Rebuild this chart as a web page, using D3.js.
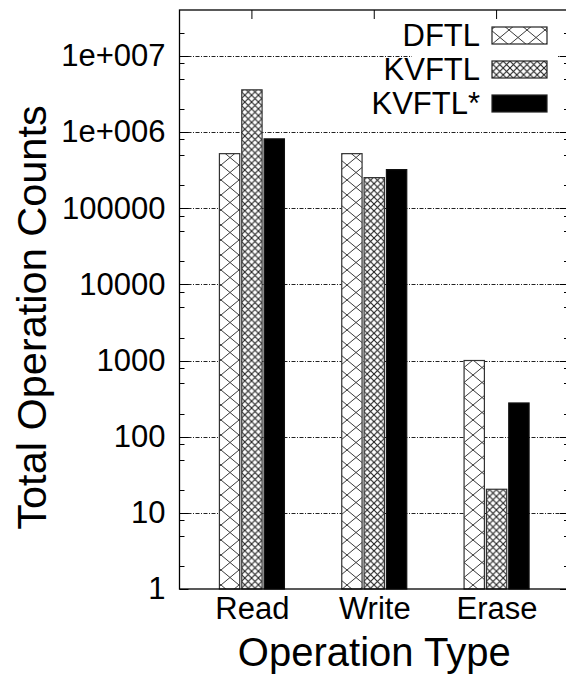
<!DOCTYPE html>
<html>
<head>
<meta charset="utf-8">
<script src="https://cdn.jsdelivr.net/npm/d3@7"></script>
<style>
  html, body { margin: 0; padding: 0; background: #fff; }
  svg { display: block; }
  text { font-family: "Liberation Sans", Arial, Helvetica, sans-serif; fill: #000; }
</style>
</head>
<body>
<svg id="chart" width="566" height="677"></svg>
<script>
const categories = ["Read", "Write", "Erase"];
const series = ["DFTL", "KVFTL", "KVFTL*"];
const dftlValues = [520000, 520000, 1000];
const kvftlValues = [3580000, 252000, 20.4];
const kvftlStarValues = [813000, 321000, 277];
const yTickValues = [1, 10, 100, 1000, 10000, 100000, 1000000, 10000000];
const yTickLabels = ["1", "10", "100", "1000", "10000", "100000", "1e+006", "1e+007"];
const minorMultipliers = [2, 5, 8];
const yTitle = "Total Operation Counts";
const xTitle = "Operation Type";

const seriesValues = [dftlValues, kvftlValues, kvftlStarValues];
const fills = ["url(#patDFTL)", "url(#patKVFTL)", "#000"];

const m = { left: 179.5, right: 569, top: 10, bottom: 589 };

const svg = d3.select("#chart");
const defs = svg.append("defs");

const p1 = defs.append("pattern").attr("id", "patDFTL")
  .attr("patternUnits", "userSpaceOnUse").attr("width", 18).attr("height", 15)
  .attr("x", 221).attr("y", 0);
p1.append("rect").attr("width", 18).attr("height", 15).attr("fill", "#fff");
p1.append("path").attr("d", "M0,0 L18,15 M18,0 L0,15")
  .attr("stroke", "#3a3a3a").attr("stroke-width", 1).attr("fill", "none");

const p2 = defs.append("pattern").attr("id", "patKVFTL")
  .attr("patternUnits", "userSpaceOnUse").attr("width", 6.8).attr("height", 6.8);
p2.append("rect").attr("width", 6.8).attr("height", 6.8).attr("fill", "#fff");
p2.append("path").attr("d", "M0,0 L6.8,6.8 M6.8,0 L0,6.8")
  .attr("stroke", "#222").attr("stroke-width", 1.1).attr("fill", "none");

const y = d3.scaleLog().domain([1, 4.0e7]).range([m.bottom, m.top]);
const x0 = d3.scalePoint().domain(categories).range([m.left, m.right]).padding(0.592);
const x1 = d3.scaleBand().domain(series).range([-32.5, 32.5]).paddingInner(0.09).paddingOuter(0);

const gridG = svg.append("g");
yTickValues.forEach(v => {
  if (v <= 1) return;
  gridG.append("line")
    .attr("x1", m.left).attr("x2", m.right)
    .attr("y1", Math.round(y(v)) + 0.5).attr("y2", Math.round(y(v)) + 0.5)
    .attr("stroke", "#222").attr("stroke-width", 1)
    .attr("stroke-dasharray", "4,1.5,1,1.5");
});

svg.append("rect").attr("x", 412).attr("y", 12).attr("width", 146).attr("height", 106).attr("fill", "#fff");

const minors = [];
for (let k = 0; k <= 7; k++) {
  minorMultipliers.forEach(mm => {
    const v = mm * Math.pow(10, k);
    if (v < y.domain()[1]) minors.push(v);
  });
}
const tickG = svg.append("g").attr("stroke", "#000").attr("stroke-width", 1);
minors.forEach(v => {
  const yy = Math.round(y(v)) + 0.5;
  tickG.append("line").attr("x1", m.left).attr("x2", m.left + 5).attr("y1", yy).attr("y2", yy);
  tickG.append("line").attr("x1", m.right - 5).attr("x2", m.right).attr("y1", yy).attr("y2", yy);
});
yTickValues.forEach(v => {
  const yy = Math.round(y(v)) + 0.5;
  tickG.append("line").attr("x1", m.left).attr("x2", m.left + 9).attr("y1", yy).attr("y2", yy);
  tickG.append("line").attr("x1", m.right - 9).attr("x2", m.right).attr("y1", yy).attr("y2", yy);
});
categories.forEach(c => {
  tickG.append("line").attr("x1", x0(c)).attr("x2", x0(c)).attr("y1", m.top).attr("y2", m.top + 9);
  tickG.append("line").attr("x1", x0(c)).attr("x2", x0(c)).attr("y1", m.bottom).attr("y2", m.bottom - 9);
});

const barG = svg.append("g");
categories.forEach((c, ci) => {
  series.forEach((s, si) => {
    const v = seriesValues[si][ci];
    const bx = x0(c) + x1(s);
    barG.append("rect")
      .attr("x", bx).attr("y", y(v))
      .attr("width", x1.bandwidth()).attr("height", m.bottom - y(v))
      .attr("fill", fills[si])
      .attr("stroke", si === 2 ? "#111" : "#333").attr("stroke-width", 1.2);
  });
});

svg.append("rect").attr("x", m.left).attr("y", m.top)
  .attr("width", m.right - m.left).attr("height", m.bottom - m.top)
  .attr("fill", "none").attr("stroke", "#000").attr("stroke-width", 1.3);

const yAxis = d3.axisLeft(y).tickValues(yTickValues)
  .tickFormat((d, i) => yTickLabels[i]).tickSize(0).tickPadding(14);
const ya = svg.append("g").attr("transform", `translate(${m.left},0)`).call(yAxis);
ya.select(".domain").remove();
ya.selectAll("text").attr("font-size", 31).attr("font-family", "Liberation Sans, Arial, sans-serif").attr("fill", "#000");

const xAxis = d3.axisBottom(x0).tickSize(0).tickPadding(0);
const xa = svg.append("g").attr("transform", `translate(0,${m.bottom})`).call(xAxis);
xa.select(".domain").remove();
xa.selectAll("text").attr("font-size", 31).attr("font-family", "Liberation Sans, Arial, sans-serif")
  .attr("fill", "#000").attr("dy", null).attr("y", 30);

svg.append("text").attr("x", (m.left + m.right) / 2).attr("y", 666)
  .attr("text-anchor", "middle").attr("font-size", 40).text(xTitle);
svg.append("text").attr("transform", "translate(46,317.5) rotate(-90)")
  .attr("text-anchor", "middle").attr("font-size", 41.5).text(yTitle);

const legFills = ["url(#patDFTL)", "url(#patKVFTL)", "#000"];
series.forEach((s, i) => {
  const cy = 35.5 + i * 34;
  svg.append("text").attr("x", 480).attr("y", cy + 10.5)
    .attr("text-anchor", "end").attr("font-size", 31).text(s);
  svg.append("rect").attr("x", 492).attr("y", cy - 8.5).attr("width", 55).attr("height", 17)
    .attr("fill", legFills[i]).attr("stroke", "#222").attr("stroke-width", 1.2);
});
</script>
</body>
</html>
